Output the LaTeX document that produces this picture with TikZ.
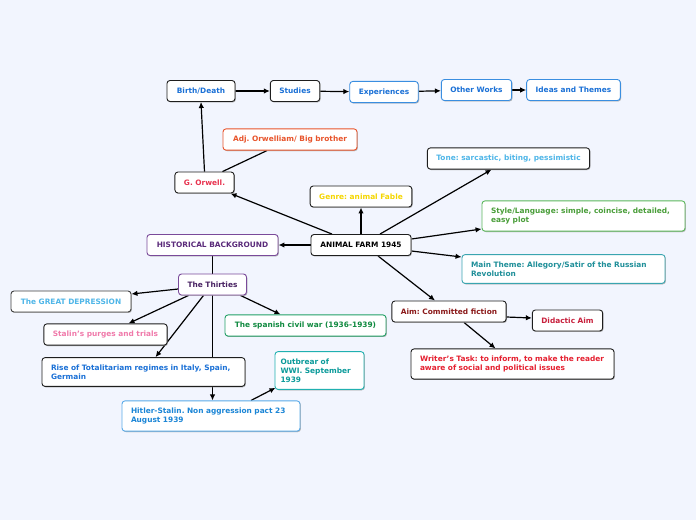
\documentclass[tikz,border=0pt]{standalone}
\usepackage{fontspec}
\setmainfont{DejaVu Sans}
\frenchspacing
\usetikzlibrary{shadows,arrows.meta}

\definecolor{bgcol}{RGB}{242,245,254}
\definecolor{edgecol}{RGB}{30,30,30}
\definecolor{bluecol}{RGB}{26,112,214}
\definecolor{blueedge}{RGB}{58,142,224}
\definecolor{orangecol}{RGB}{232,84,43}
\definecolor{redcol}{RGB}{232,51,79}
\definecolor{yellowcol}{RGB}{245,214,0}
\definecolor{skycol}{RGB}{79,182,232}
\definecolor{greencol}{RGB}{74,158,58}
\definecolor{greenedge}{RGB}{92,184,92}
\definecolor{tealcol}{RGB}{31,143,153}
\definecolor{tealedge}{RGB}{58,165,176}
\definecolor{purplecol}{RGB}{90,42,122}
\definecolor{purpleedge}{RGB}{122,74,154}
\definecolor{pinkcol}{RGB}{240,122,170}
\definecolor{spanishcol}{RGB}{16,138,64}
\definecolor{spanishedge}{RGB}{34,160,102}
\definecolor{darkredcol}{RGB}{139,26,26}
\definecolor{crimsoncol}{RGB}{200,32,60}
\definecolor{taskcol}{RGB}{229,32,48}
\definecolor{wwicol}{RGB}{10,154,154}
\definecolor{wwiedge}{RGB}{32,176,176}
\definecolor{pactedge}{RGB}{90,170,232}
\definecolor{pactcol}{RGB}{26,133,214}

\begin{document}
\begin{tikzpicture}[x=1pt, y=-1pt,
    topic/.style={draw=edgecol, fill=white, rounded corners=3pt, line width=0.9pt,
        font=\fontsize{7.4}{9}\selectfont\bfseries, inner xsep=9pt, inner ysep=7pt,
        minimum height=21pt,
        drop shadow={shadow xshift=0.8pt, shadow yshift=-0.9pt, fill=black!35, opacity=0.6}},
    wide/.style={topic, align=left, text width=#1},
    link/.style={line width=1.2pt, black},
    arrow/.style={link, -{Latex[length=6pt,width=5.5pt]}}
]

\useasboundingbox[fill=bgcol] (0,0) rectangle (696,520);

% Nodes (drawn later on top of the links)
\def\placenodes{
    \node[topic, minimum width=68pt, text=bluecol] (birth) at (201,91) {Birth/Death};
    \node[topic, minimum width=48pt, text=bluecol] (studies) at (295,91) {Studies};
    \node[topic, minimum width=68pt, draw=blueedge, text=bluecol] (exper) at (384,92) {Experiences};
    \node[topic, minimum width=69pt, draw=blueedge, text=bluecol] (works) at (476.5,90) {Other Works};
    \node[topic, minimum width=93pt, draw=blueedge, text=bluecol] (ideas) at (573.5,90) {Ideas and Themes};
    \node[topic, minimum width=134pt, draw=orangecol, text=orangecol] (adj) at (290,139.5) {Adj. Orwelliam/ Big brother};
    \node[topic, minimum width=59pt, text=redcol] (orwell) at (204.5,182.5) {G. Orwell.};
    \node[topic, minimum width=100pt, text=yellowcol] (genre) at (361,196.5) {Genre: animal Fable};
    \node[topic, minimum width=161pt, text=skycol] (tone) at (508.5,158.5) {Tone: sarcastic, biting, pessimistic};
    \node[wide=185pt, draw=greenedge, text=greencol] (style) at (583.5,216)
        {Style/Language: simple, coincise, detailed,\\easy plot};
    \node[topic, minimum width=100pt] (farm) at (361,245) {ANIMAL FARM 1945};
    \node[topic, minimum width=131pt, draw=purpleedge, text=purplecol] (hist) at (212.5,245) {HISTORICAL BACKGROUND};
    \node[wide=185pt, draw=tealedge, text=tealcol] (theme) at (563.5,269)
        {Main Theme: Allegory/Satir of the Russian\\Revolution};
    \node[topic, minimum width=67pt, draw=purpleedge, text=purplecol!80!black] (thirties) at (212.5,284.5) {The Thirties};
    \node[topic, minimum width=120pt, draw=edgecol!85, text=skycol] (depr) at (71,301.5) {The GREAT DEPRESSION};
    \node[topic, minimum width=121pt, text=pinkcol] (purges) at (105.5,334.5) {Stalin's purges and trials};
    \node[topic, minimum width=161pt, draw=spanishedge, text=spanishcol] (spanish) at (305.5,325.5) {The spanish civil war (1936-1939)};
    \node[topic, minimum width=114pt, text=darkredcol] (aim) at (449,311.5) {Aim: Committed fiction};
    \node[topic, minimum width=69pt, text=crimsoncol] (didactic) at (567.5,320.5) {Didactic Aim};
    \node[wide=185pt, text=taskcol] (task) at (512.5,364)
        {Writer's Task: to inform, to make the reader\\aware of social and political issues};
    \node[wide=185pt, text=bluecol] (rise) at (143.5,372)
        {Rise of Totalitariam regimes in Italy, Spain,\\Germain};
    \node[wide=78pt, inner xsep=5.5pt, draw=wwiedge, text=wwicol] (wwi) at (319.5,370.5)
        {Outbrear of\\WWI. September\\1939};
    \node[wide=160pt, draw=pactedge, text=pactcol] (pact) at (211,416)
        {Hitler-Stalin. Non aggression pact 23\\August 1939};
}

% Invisible pass to get the node names
\begin{scope}[opacity=0]
    \placenodes
\end{scope}

% Links
\draw[arrow] (birth) -- (studies);
\draw[arrow] (studies) -- (exper);
\draw[arrow] (exper) -- (works);
\draw[arrow] (works) -- (ideas);
\draw[arrow] (orwell.north) -- (birth.south);
\draw[link] ([xshift=18pt]orwell.north) -- ([xshift=-23pt]adj.south);
\draw[arrow] ([xshift=-29pt]farm.north) -- ([xshift=26pt]orwell.south);
\draw[arrow] (farm) -- (genre);
\draw[arrow] ([xshift=19pt]farm.north) -- ([xshift=-17pt]tone.south);
\draw[arrow] ([yshift=6pt]farm.east) -- ([yshift=-13pt]style.west);
\draw[arrow] ([yshift=-6pt]farm.east) -- ([yshift=12pt]theme.west);
\draw[arrow] ([xshift=17pt]farm.south) -- ([xshift=-14pt]aim.north);
\draw[arrow] (farm) -- (hist);
\draw[link] (hist) -- (thirties);
\draw[arrow] ([yshift=-4.5pt]thirties.west) -- ([yshift=7.5pt]depr.east);
\draw[arrow] ([xshift=-24pt]thirties.south) -- ([xshift=23pt]purges.north);
\draw[arrow] ([xshift=-9pt]thirties.south) -- ([xshift=12pt]rise.north);
\draw[arrow] (thirties.south) -- (pact.north -| thirties.south);
\draw[arrow] ([xshift=28pt]thirties.south) -- ([xshift=-25pt]spanish.north);
\draw[arrow] ([xshift=40pt]pact.north) -- ([xshift=-44pt, yshift=2pt]wwi.south);
\draw[arrow] ([yshift=-5.5pt]aim.east) -- ([yshift=2.5pt]didactic.west);
\draw[arrow] ([xshift=15pt]aim.south) -- ([xshift=-17pt]task.north);

% Boxes on top
\placenodes

\end{tikzpicture}
\end{document}
